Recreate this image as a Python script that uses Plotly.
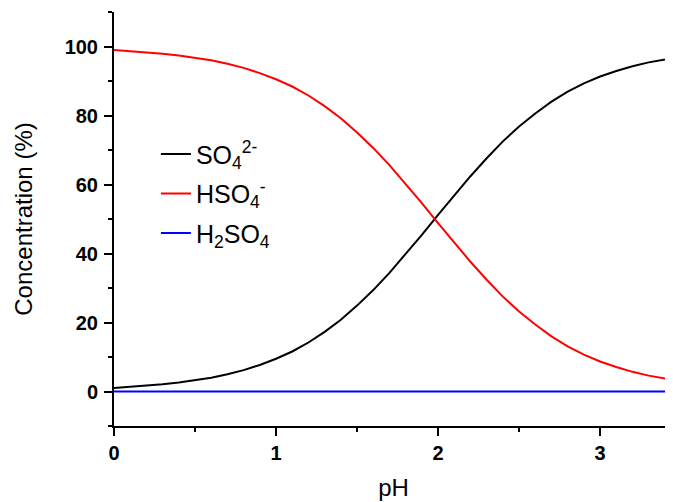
import plotly.graph_objects as go

ph = [0.0, 0.1, 0.2, 0.3, 0.4, 0.5, 0.6, 0.7, 0.8, 0.9,
      1.0, 1.1, 1.2, 1.3, 1.4, 1.5, 1.6, 1.7, 1.8, 1.9,
      2.0, 2.1, 2.2, 2.3, 2.4, 2.5, 2.6, 2.7, 2.8, 2.9,
      3.0, 3.1, 3.2, 3.3, 3.4, 3.5]

so4 = [1.0, 1.3, 1.6, 2.1, 2.6, 3.2, 4.0, 5.0, 6.2, 7.7,
       9.5, 11.6, 14.2, 17.3, 20.8, 24.9, 29.4, 34.4, 39.8, 45.4,
       51.2, 56.9, 62.4, 67.6, 72.5, 76.8, 80.6, 84.0, 86.9, 89.3,
       91.3, 92.9, 94.3, 95.4, 96.3, 97.1]

hso4 = [99.0, 98.7, 98.4, 97.9, 97.4, 96.8, 96.0, 95.0, 93.8, 92.3,
        90.5, 88.4, 85.8, 82.7, 79.2, 75.1, 70.6, 65.6, 60.2, 54.6,
        48.8, 43.1, 37.6, 32.4, 27.5, 23.2, 19.4, 16.0, 13.1, 10.7,
        8.7, 7.1, 5.7, 4.6, 3.7, 2.9]

h2so4 = [0.0] * len(ph)

series_names = ["SO<sub>4</sub><sup>2-</sup>", "HSO<sub>4</sub><sup>-</sup>", "H<sub>2</sub>SO<sub>4</sub>"]
series_values = [so4, hso4, h2so4]
series_colors = ["#000000", "#ff0000", "#0000ff"]

y_ticks = [0, 20, 40, 60, 80, 100]
x_ticks = [0, 1, 2, 3]

FONT = "Liberation Sans, Arial, sans-serif"

fig = go.Figure()
for i, (name, vals, col) in enumerate(zip(series_names, series_values, series_colors)):
    fig.add_trace(go.Scatter(
        x=ph, y=vals, mode="lines", name=name,
        line=dict(color=col, width=2), legendgroup=f"g{i}",
    ))

axis_common = dict(
    showgrid=False, zeroline=False, showline=True, linecolor="black", linewidth=2,
    ticks="outside", ticklen=8, tickwidth=2, tickcolor="black",
    tickfont=dict(family=FONT, size=20, color="black", weight="bold"),
    mirror=False,
)

# the page body has an 8px margin, so the figure is sized to fill the rest
fig.update_layout(
    width=665, height=494,
    margin=dict(l=106, r=0, t=4, b=76, autoexpand=False),
    paper_bgcolor="white", plot_bgcolor="white",
    font=dict(family=FONT, color="black"),
    xaxis=dict(
        **axis_common,
        range=[0, 3.45],
        tickvals=x_ticks,
        minor=dict(dtick=0.5, ticklen=4, tickwidth=2, tickcolor="black", ticks="outside"),
        title=dict(text="pH", font=dict(family=FONT, size=24, color="black"), standoff=16),
    ),
    yaxis=dict(
        **axis_common,
        range=[-10, 110],
        tickvals=y_ticks,
        minor=dict(dtick=10, ticklen=4, tickwidth=2, tickcolor="black", ticks="outside"),
        ticklabelstandoff=2,
        title=dict(text="Concentration (%)", font=dict(family=FONT, size=24, color="black"), standoff=25),
    ),
    legend=dict(
        x=0.075, y=0.712, xanchor="left", yanchor="top",
        bgcolor="rgba(0,0,0,0)", borderwidth=0,
        font=dict(family=FONT, size=25, color="black"),
        tracegroupgap=4,
    ),
    showlegend=True,
)

fig.write_html("out.html")
